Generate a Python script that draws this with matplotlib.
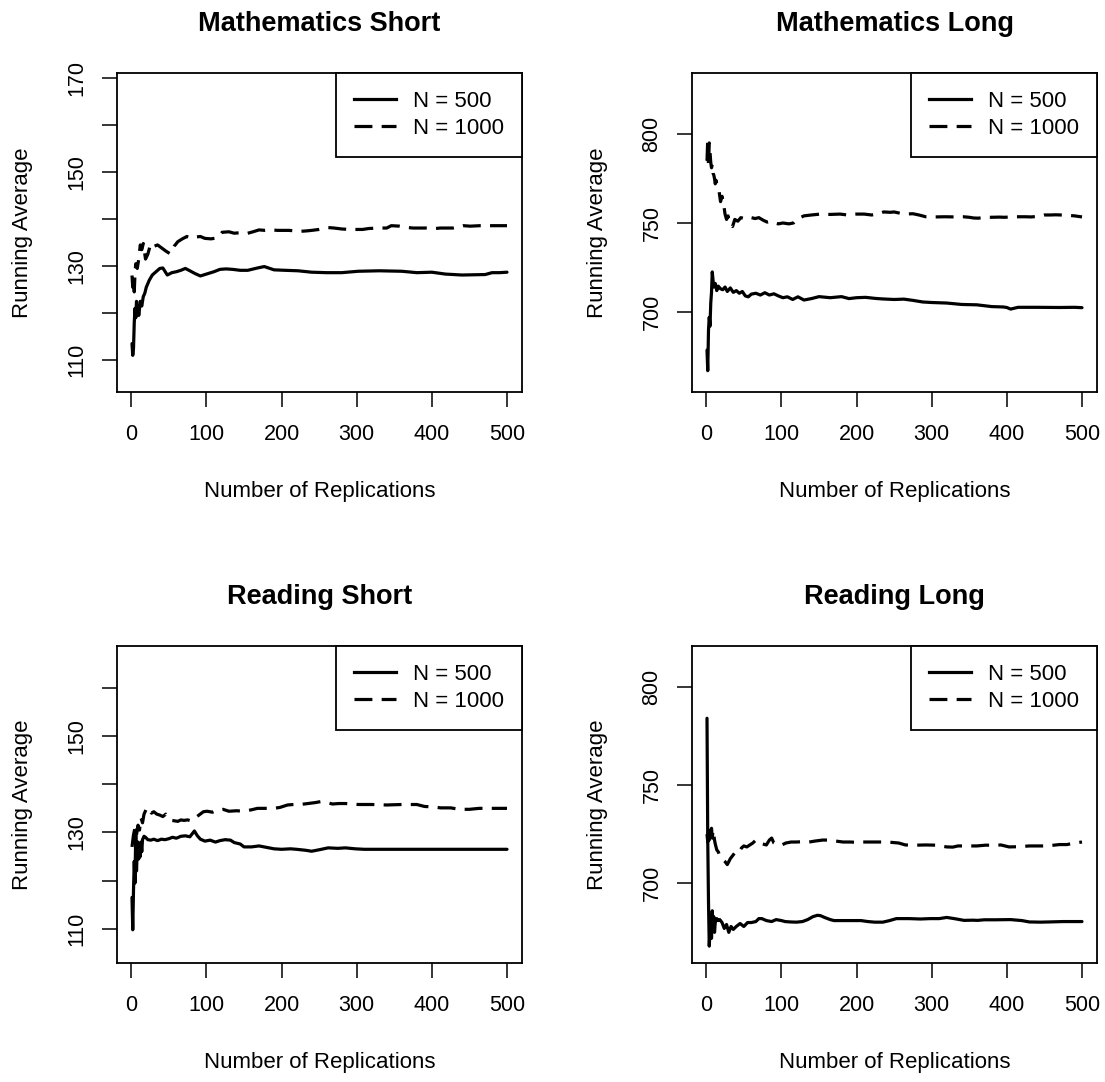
import matplotlib
matplotlib.use("Agg")
import matplotlib.pyplot as plt
from matplotlib.lines import Line2D

plt.rcParams['font.family'] = ['Liberation Sans', 'DejaVu Sans']

# ---------------------------------------------------------------
# Running averages over replications
# ---------------------------------------------------------------
titles = ["Mathematics Short", "Mathematics Long", "Reading Short", "Reading Long"]
legend_labels = ["N = 500", "N = 1000"]
x_ticks = [0, 100, 200, 300, 400, 500]

# Mathematics Short
ms_x500 = [1, 2, 3, 4, 5, 6, 7, 8, 9, 10, 11, 12, 14, 16, 18, 20, 24, 28, 33, 38, 42, 48, 54,
           60, 66, 72, 78, 85, 92, 100, 110, 118, 126, 135, 145, 155, 168, 177, 190, 205,
           222, 240, 260, 280, 302, 330, 360, 380, 400, 418, 440, 471, 480, 490, 500]
ms_y500 = [113.5, 111.0, 112.5, 118.0, 121.0, 119.0, 122.5, 120.0, 121.5, 119.5, 121.0, 122.5,
           121.5, 123.5, 124.2, 125.5, 127.0, 128.1, 128.8, 129.5, 129.6, 128.1, 128.6,
           128.8, 129.1, 129.5, 129.0, 128.4, 127.9, 128.3, 128.8, 129.3, 129.4, 129.3,
           129.1, 129.1, 129.6, 129.9, 129.2, 129.1, 129.0, 128.7, 128.6, 128.6, 128.9,
           129.0, 128.9, 128.6, 128.7, 128.3, 128.1, 128.2, 128.6, 128.6, 128.7]
ms_x1000 = [1, 2, 3, 4, 5, 6, 8, 10, 12, 14, 16, 19, 22, 26, 30, 35, 41, 46, 52, 57, 62, 68,
            74, 80, 86, 92, 98, 106, 115, 121, 130, 137, 145, 153, 162, 170, 178, 186, 195,
            210, 225, 234, 240, 250, 262, 270, 280, 290, 308, 316, 330, 340, 346, 357, 368,
            375, 393, 405, 411, 428, 442, 451, 464, 480, 500]
ms_y1000 = [128.0, 125.5, 127.0, 124.5, 128.5, 130.5, 129.5, 131.5, 134.5, 133.5, 134.8,
            131.5, 132.5, 134.8, 134.2, 134.5, 133.8, 133.2, 132.6, 134.2, 135.2, 135.8,
            136.3, 135.9, 136.2, 136.3, 135.9, 135.8, 136.0, 137.2, 137.3, 137.0, 137.1,
            136.9, 137.3, 137.7, 137.6, 137.7, 137.6, 137.6, 137.4, 137.5, 137.6, 137.8,
            138.2, 138.1, 137.9, 137.8, 137.8, 138.0, 138.1, 138.1, 138.6, 138.5, 138.2,
            138.1, 138.1, 138.0, 138.1, 138.1, 138.6, 138.5, 138.6, 138.6, 138.6]

# Mathematics Long
ml_x500 = [1, 2, 3, 4, 5, 6, 7, 8, 9, 10, 12, 14, 16, 19, 22, 25, 28, 32, 36, 40, 44, 48,
           52, 56, 60, 66, 72, 78, 84, 90, 96, 102, 108, 115, 122, 130, 140, 150, 165, 180,
           190, 200, 212, 225, 235, 250, 263, 275, 288, 300, 320, 340, 360, 380, 395, 400,
           405, 415, 440, 470, 490, 500]
ml_y500 = [678.5, 667.0, 690.0, 697.0, 692.0, 705.0, 711.0, 722.5, 718.0, 714.0, 716.0,
           712.0, 714.5, 713.0, 712.5, 714.0, 711.5, 713.5, 711.0, 712.0, 710.5, 711.5,
           709.0, 708.5, 710.0, 710.5, 709.5, 710.8, 709.5, 710.2, 709.0, 708.0, 708.5,
           707.0, 708.5, 706.7, 707.5, 708.6, 708.0, 708.6, 707.5, 708.0, 708.2, 707.6,
           707.3, 707.0, 707.2, 706.5, 705.6, 705.3, 705.0, 704.2, 704.0, 703.0, 702.8,
           702.5, 701.6, 702.6, 702.6, 702.5, 702.6, 702.4]
ml_x1000 = [1, 2, 3, 4, 5, 6, 7, 8, 9, 10, 11, 12, 13, 15, 17, 19, 21, 23, 25, 27, 29, 31,
            33, 35, 38, 42, 46, 50, 55, 60, 65, 70, 76, 81, 86, 91, 96, 102, 110, 116, 120,
            125, 130, 140, 152, 165, 178, 188, 200, 210, 220, 228, 236, 245, 250, 263, 275,
            283, 292, 305, 318, 330, 342, 350, 356, 362, 370, 379, 390, 397, 405, 415, 425,
            432, 442, 450, 458, 465, 478, 490, 500]
ml_y1000 = [785, 797, 782, 795, 790, 784, 781, 783, 778, 777, 775, 772, 774, 770, 768, 762,
            765, 761, 755, 752, 754, 750, 749, 748, 752, 751, 753, 752.5, 752, 753, 752.5,
            753, 751.5, 750.5, 751, 750, 749.5, 750, 749.5, 750, 752, 753, 754, 754.5, 755,
            754.8, 755, 754.5, 755, 755, 754.5, 755, 756.2, 756, 756.2, 755, 755.2, 754.5,
            753.5, 753.4, 753.5, 753.4, 753.5, 753.2, 752.8, 752.7, 753.2, 753.2, 753.3,
            753.2, 753.4, 753.5, 753.5, 753.4, 753.7, 754.5, 754.5, 754.6, 754.4, 754.0,
            753.4]

# Reading Short
rs_x500 = [1, 2, 3, 4, 5, 6, 7, 8, 9, 10, 11, 12, 13, 14, 15, 17, 19, 22, 26, 30, 35, 40,
           45, 50, 55, 60, 66, 72, 78, 84, 88, 92, 98, 105, 112, 118, 125, 132, 137, 145,
           150, 160, 170, 180, 190, 200, 212, 220, 232, 240, 250, 262, 275, 285, 298, 310,
           320, 350, 400, 450, 500]
rs_y500 = [116.5, 109.8, 118.0, 124.0, 119.5, 130.5, 122.0, 126.5, 128.0, 124.5, 127.0,
           125.0, 128.0, 126.0, 128.5, 129.2, 129.0, 128.5, 128.4, 128.6, 128.3, 128.6,
           128.5, 128.7, 129.0, 128.8, 129.2, 129.3, 129.1, 130.3, 129.3, 128.6, 128.2,
           128.4, 128.0, 128.3, 128.5, 128.4, 127.9, 127.6, 127.0, 127.0, 127.2, 126.9,
           126.6, 126.5, 126.6, 126.5, 126.3, 126.1, 126.4, 126.8, 126.7, 126.8, 126.6,
           126.5, 126.5, 126.5, 126.5, 126.5, 126.5]
rs_x1000 = [1, 3, 5, 7, 9, 11, 13, 15, 17, 19, 21, 24, 27, 30, 34, 38, 42, 46, 50, 54, 58,
            62, 66, 70, 75, 80, 85, 90, 96, 101, 108, 114, 122, 130, 140, 150, 160, 168,
            180, 190, 198, 208, 216, 225, 235, 245, 252, 260, 268, 276, 285, 295, 302, 320,
            340, 360, 380, 390, 400, 412, 425, 437, 450, 463, 480, 500]
rs_y1000 = [127.0, 129.5, 131.0, 129.5, 131.5, 130.5, 133.0, 132.0, 133.8, 134.5, 135.2,
            134.6, 134.0, 134.3, 133.8, 133.6, 133.3, 133.8, 132.9, 132.5, 132.4, 132.3,
            132.6, 132.5, 132.6, 132.4, 133.0, 133.6, 134.3, 134.4, 134.2, 134.6, 134.8,
            134.4, 134.5, 134.4, 134.7, 135.0, 135.0, 135.0, 135.2, 135.7, 135.8, 135.8,
            136.0, 136.2, 136.4, 136.2, 135.9, 136.0, 136.0, 135.9, 135.8, 135.8, 135.7,
            135.8, 135.8, 135.4, 135.3, 135.1, 135.1, 134.8, 134.8, 135.0, 135.0, 135.0]

# Reading Long
rl_x500 = [1, 2, 3, 4, 5, 6, 7, 8, 9, 10, 11, 12, 14, 16, 18, 21, 24, 27, 30, 33, 36, 40,
           45, 50, 55, 60, 66, 70, 74, 80, 87, 93, 100, 105, 112, 120, 128, 135, 142, 148,
           152, 158, 165, 170, 180, 195, 206, 215, 224, 235, 244, 253, 270, 285, 298, 310,
           320, 330, 343, 355, 361, 370, 385, 405, 420, 430, 445, 456, 475, 490, 500]
rl_y500 = [784, 722, 690, 668, 676, 684, 672, 686, 678, 683, 675, 680, 682, 681, 681.5,
           680, 677, 679, 675, 678, 676.5, 678, 679.5, 678, 680, 680, 680.5, 682, 682, 681,
           680.5, 681.5, 681, 680.5, 680.3, 680.2, 680.5, 681.5, 683, 683.7, 683.5, 682.5,
           681.5, 681, 681, 681, 681, 680.5, 680.2, 680.2, 681, 682, 682, 681.8, 682, 682,
           682.6, 682, 681.1, 681.2, 681.1, 681.4, 681.4, 681.5, 681, 680.3, 680.2, 680.3,
           680.5, 680.5, 680.5]
rl_x1000 = [1, 2, 3, 4, 5, 6, 7, 8, 9, 10, 11, 12, 14, 16, 18, 20, 22, 25, 28, 30, 32, 35,
            38, 41, 44, 47, 50, 54, 58, 62, 66, 70, 75, 80, 84, 87, 90, 95, 100, 106, 113,
            120, 130, 137, 145, 155, 165, 172, 182, 192, 200, 208, 220, 235, 247, 256, 265,
            280, 292, 305, 320, 328, 335, 346, 360, 372, 385, 392, 403, 415, 430, 448, 458,
            470, 480, 490, 500]
rl_y1000 = [725, 721, 728, 722, 727, 724, 728, 723, 727, 725, 722, 720, 717, 716, 714,
            713, 712, 711, 709.5, 711, 712.5, 714, 715.5, 716.5, 716, 718, 719, 718.5,
            719.5, 720.5, 722, 721.5, 720, 719.5, 722, 723, 720.5, 719.5, 719.4, 720.5,
            721, 721, 721.2, 721, 721.5, 722, 722, 721.5, 721, 721, 720.8, 721, 721, 721,
            720.8, 720.5, 719.5, 719.4, 719.5, 719.4, 718.5, 718.4, 719, 719, 719, 719.4,
            719.3, 719.5, 718.5, 718.6, 719, 719, 719.2, 719.7, 719.7, 720.5, 721]

# y axis ticks; every other label is left blank on the short-test panels
short_ticks_top = [110, 120, 130, 140, 150, 160, 170]
short_labels_top = ["110", "", "130", "", "150", "", "170"]
short_ticks_bottom = [110, 120, 130, 140, 150, 160]
short_labels_bottom = ["110", "", "130", "", "150", ""]
long_ticks = [700, 750, 800]
long_labels = ["700", "750", "800"]

# ---------------------------------------------------------------
W, H = 1105, 1082
fig = plt.figure(figsize=(W / 100, H / 100), dpi=100)
fig.patch.set_facecolor("white")

# (left, top, right, bottom) in pixels, y limits, ticks
layout = [
    ((117, 73, 522, 392), (103.2, 171.1), short_ticks_top, short_labels_top,
     ms_x500, ms_y500, ms_x1000, ms_y1000),
    ((692, 73, 1097, 392), (655.0, 834.3), long_ticks, long_labels,
     ml_x500, ml_y500, ml_x1000, ml_y1000),
    ((117, 646, 522, 963), (102.9, 168.7), short_ticks_bottom, short_labels_bottom,
     rs_x500, rs_y500, rs_x1000, rs_y1000),
    ((692, 646, 1097, 963), (659.4, 820.8), long_ticks, long_labels,
     rl_x500, rl_y500, rl_x1000, rl_y1000),
]

LW = 2.3
DASH = (5.6, 2.9)

for title, (box, ylim, yt, ytl, x5, y5, x10, y10) in zip(titles, layout):
    l, t, r, b = box
    ax = fig.add_axes([l / W, 1 - b / H, (r - l) / W, (b - t) / H])
    ax.plot(x5, y5, color="black", lw=LW, solid_joinstyle="round", solid_capstyle="round")
    ax.plot(x10, y10, color="black", lw=LW, dashes=DASH, dash_capstyle="butt")
    ax.set_xlim(-18.96, 519.96)
    ax.set_ylim(*ylim)
    ax.set_xticks(x_ticks)
    ax.set_xticklabels([str(v) for v in x_ticks])
    ax.set_yticks(yt)
    ax.set_yticklabels(ytl, rotation=90, va="center")
    ax.tick_params(direction="out", length=10.8, width=1.1, labelsize=15.5, colors="black")
    ax.tick_params(axis="x", pad=12.5)
    ax.tick_params(axis="y", pad=10.5)
    for sp in ax.spines.values():
        sp.set_linewidth(1.3)
        sp.set_color("black")
    ax.set_title(title, fontsize=19.5, fontweight="bold", pad=30)
    ax.set_xlabel("Number of Replications", fontsize=16, labelpad=25.5)
    ax.set_ylabel("Running Average", fontsize=16, labelpad=24)

    handles = [Line2D([], [], color="black", lw=LW),
               Line2D([], [], color="black", lw=LW, dashes=DASH, dash_capstyle="butt")]
    leg = ax.legend(handles, legend_labels, loc="upper right", borderaxespad=0,
                    fancybox=False, edgecolor="black", framealpha=1, fontsize=16,
                    handlelength=1.9, handletextpad=0.77, borderpad=0.8,
                    labelspacing=0.28)
    leg.get_frame().set_linewidth(1.3)

fig.savefig("out.png", dpi=100, facecolor="white")
